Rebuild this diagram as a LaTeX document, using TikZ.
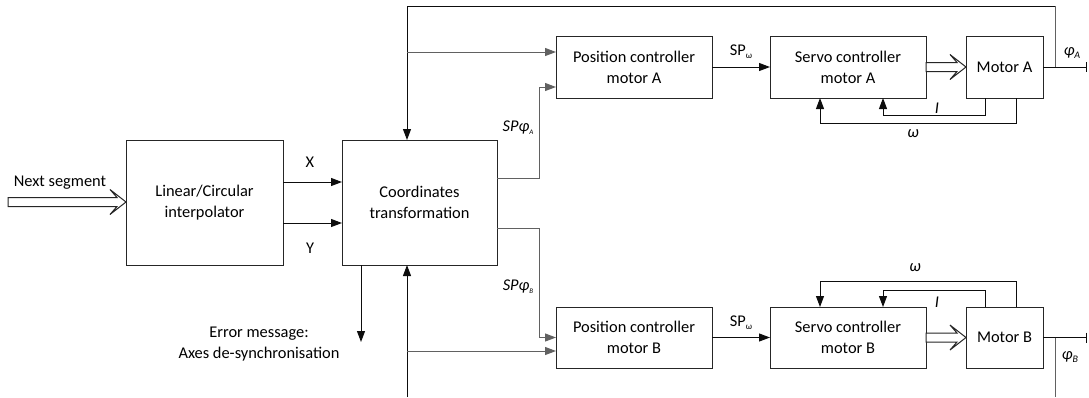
\documentclass[tikz,border=0pt]{standalone}
\usepackage{fontspec}
\setmainfont{Carlito}
\usetikzlibrary{arrows.meta,calc}
\newcommand\lowsub[2]{\raisebox{-0.35ex}{\fontsize{#1}{#1}\selectfont #2}}
\newcommand\hollowarr[2]{\path[hollow] let \p1=(#1), \p2=(#2) in
  (\x1,\y1+4.5pt) -- (\x2-9pt,\y1+4.5pt) -- (\x2-16pt,\y1+12.5pt) -- (\x2,\y1)
  -- (\x2-16pt,\y1-12.5pt) -- (\x2-9pt,\y1-4.5pt) -- (\x1,\y1-4.5pt) -- cycle;}
\tikzset{
 box/.style={draw=black!85, line width=1pt, inner sep=0pt, outer sep=0pt, align=center,
   font=\fontsize{16.4}{21}\selectfont, text=black},
 ln/.style={draw=black!95, line width=1pt},
 gln/.style={draw=black!62, line width=1pt},
 arr/.style={-{Triangle[length=11pt,width=8pt]}},
 lbl/.style={font=\fontsize{16.4}{21}\selectfont, inner sep=0pt, align=center, text=black},
 hollow/.style={draw=black!85, line width=1pt, fill=white, line join=miter},
}
\begin{document}
\begin{tikzpicture}[x=1pt,y=-1pt]
\useasboundingbox (0,0) rectangle (1089,397);
% boxes
\node[box, minimum width=157pt, minimum height=125pt] (interp) at (204.5,202.5) {Linear/Circular\\interpolator};
\node[box, minimum width=155pt, minimum height=125pt] (coord) at (419.5,202.5) {Coordinates\\transformation};
\node[box, minimum width=156pt, minimum height=62pt] (posA) at (634,67) {Position controller\\motor A};
\node[box, minimum width=156pt, minimum height=62pt] (servoA) at (848,67) {Servo controller\\motor A};
\node[box, minimum width=77pt, minimum height=62pt] (motorA) at (1004.5,67) {Motor A};
\node[box, minimum width=156pt, minimum height=61pt] (posB) at (634,337.5) {Position controller\\motor B};
\node[box, minimum width=156pt, minimum height=61pt] (servoB) at (848,337.5) {Servo controller\\motor B};
\node[box, minimum width=77pt, minimum height=61pt] (motorB) at (1004.5,337.5) {Motor B};
% coordinates
\coordinate (ns) at (8,202);
\coordinate (xl) at (0,182);
\coordinate (yl) at (0,223);
\coordinate (tA) at (1055,6);
\coordinate (tL) at (407,6);
\coordinate (brA) at (407,52);
\coordinate (spA1) at (539,178);
\coordinate (spA2) at (539,87);
\coordinate (endA) at (1087,67);
\coordinate (iA) at (985,115);
\coordinate (iA2) at (883,115);
\coordinate (wA) at (1016,123);
\coordinate (wA2) at (820,123);
\coordinate (bL) at (407,397);
\coordinate (brB) at (407,351);
\coordinate (spB1) at (539,228);
\coordinate (spB2) at (539,337.5);
\coordinate (endB) at (1087,337.5);
\coordinate (iB) at (985,290);
\coordinate (iB2) at (883,290);
\coordinate (wB) at (1016,281);
\coordinate (wB2) at (820,281);
\coordinate (err) at (361,342);
\coordinate (phB) at (1055,397);
% left side
\hollowarr{ns}{interp.west |- ns}
\node[lbl] (nslbl) at (60,183) {Next segment};
\draw[ln,arr] (interp.east |- xl) -- (coord.west |- xl);
\draw[ln,arr] (interp.east |- yl) -- (coord.west |- yl);
\node[lbl] (xlab) at (310,162) {X};
\node[lbl] (ylab) at (310,248) {Y};
% top feedback loop
\draw[ln,-{Bar[width=10pt]}] (motorA.east) -- (endA);
\draw[gln] (motorA.east -| tA) -- (tA);
\draw[ln,arr] (tA) -- (tL) -- (tL |- coord.north);
\draw[gln,arr] (brA) -- (posA.west |- brA);
\draw[gln,arr] (coord.east |- spA1) -- (spA1) -- (spA2) -- (posA.west |- spA2);
\node[lbl] (spalbl) at (518,128) {\textit{SPφ}\lowsub{7}{\textit{A}}};
\draw[ln,arr] (posA.east) -- (servoA.west);
\node[lbl] (spwA) at (741,52) {SP\lowsub{9}{ω}};
\hollowarr{servoA.east}{motorA.west}
\draw[ln,arr] (motorA.south -| iA) -- (iA) -- (iA2) -- (servoA.south -| iA2);
\draw[ln,arr] (motorA.south -| wA) -- (wA) -- (wA2) -- (servoA.south -| wA2);
\node[lbl] (iAlbl) at (937,108) {\textit{I}};
\node[lbl] (wAlbl) at (913,134) {\textit{ω}};
\node[lbl] (phAlbl) at (1072,53) {\textit{φ}\lowsub{10}{\textit{A}}};
% bottom
\draw[ln,arr] (coord.south -| err) -- (err);
\node[lbl] (errlbl) at (259,344) {Error message:\\Axes de-synchronisation};
\draw[ln,arr] (bL) -- (bL |- coord.south);
\draw[gln,arr] (brB) -- (posB.west |- brB);
\draw[gln,arr] (coord.east |- spB1) -- (spB1) -- (spB2) -- (posB.west |- spB2);
\node[lbl] (spblbl) at (518,287) {\textit{SPφ}\lowsub{7}{\textit{B}}};
\draw[ln,arr] (posB.east) -- (servoB.west);
\node[lbl] (spwB) at (741,323) {SP\lowsub{9}{ω}};
\hollowarr{servoB.east}{motorB.west}
\draw[ln,arr] (motorB.north -| iB) -- (iB) -- (iB2) -- (servoB.north -| iB2);
\draw[ln,arr] (motorB.north -| wB) -- (wB) -- (wB2) -- (servoB.north -| wB2);
\node[lbl] (iBlbl) at (937,302) {\textit{I}};
\node[lbl] (wBlbl) at (915,268) {\textit{ω}};
\draw[ln,-{Bar[width=10pt]}] (motorB.east) -- (endB);
\draw[gln] (motorB.east -| phB) -- (phB);
\node[lbl] (phBlbl) at (1070,357) {\textit{φ}\lowsub{10}{\textit{B}}};
\end{tikzpicture}
\end{document}
